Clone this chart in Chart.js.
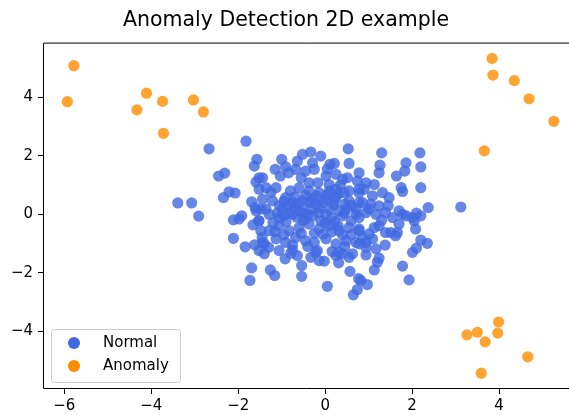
<!DOCTYPE html>
<html>
<head>
<meta charset="utf-8">
<script src="https://cdn.jsdelivr.net/npm/chart.js@4"></script>
<style>
  html, body { margin: 0; padding: 0; background: #fff; }
</style>
</head>
<body>
<canvas id="myChart" width="569" height="415"></canvas>
<script>
// nomes das series
const seriesNames = ['Normal', 'Anomaly'];

// pontos normais (x, y)
const normalPoints = [
  [-2.67, 2.24], [-1.82, 2.50], [-1.57, 1.88], [-1.63, 1.65], [-2.45, 1.31], [-2.31, 1.41],
  [-1.52, 1.25], [-1.59, 1.10], [-2.21, 0.77], [-2.07, 0.73], [-2.34, 0.57], [-3.39, 0.39],
  [-3.07, 0.39], [-1.69, 0.43], [-1.61, 0.23], [-2.91, -0.06],
  [-2.11, -0.19], [-1.98, -0.16], [-1.92, -0.05], [-1.59, 0.12], [-1.66, -0.36], [-1.53, -0.22],
  [-2.11, -0.82], [-1.84, -1.11], [-1.62, -1.04], [-1.45, -0.79], [-1.69, -1.83], [-1.73, -2.26],
  [-1.48, -0.56], [-1.44, -0.96], [-1.52, -1.24], [-1.52, 0.86], [-1.44, 0.52], [-1.48, 0.18],
  [-1.26, -1.90], [-1.16, -2.09], [-0.54, -1.75], [-0.54, -2.12], [0.05, -2.46], [0.57, -1.95],
  [0.77, -2.20], [0.74, -2.57], [0.65, -2.75], [-0.02, -1.60], [-0.14, -1.58], [0.25, -1.41],
  [0.31, -1.66], [-0.92, -1.52], [-0.79, -1.33], [-0.64, -1.41], [-1.40, -1.35], [-1.30, -1.13],
  [-0.33, -1.47], [-0.18, -1.24], [0.40, -1.35], [0.55, -1.47],
  [1.78, -1.77], [1.93, -2.24], [1.13, -1.90], [1.20, -1.64], [1.24, -1.50], [0.97, -2.40],
  [0.82, -2.26], [0.94, -1.39], [2.01, -1.30], [2.10, -1.15], [2.20, -0.88], [2.35, -0.99],
  [1.38, -1.05], [2.08, -0.50], [1.70, -0.33], [1.62, -0.73], [1.66, -0.62], [1.51, -0.62],
  [1.39, -0.62], [1.13, -0.45], [1.24, -0.39], [0.86, -0.79], [0.94, -0.96], [1.09, -0.84],
  [1.78, 0.00], [2.01, -0.11], [2.20, -0.05], [1.70, 0.12], [0.78, -0.11], [0.94, 0.06],
  [1.17, 0.00], [1.39, 0.06], [1.55, -0.11], [1.86, -0.05], [2.05, -0.22], [0.78, -0.56],
  [1.01, -0.67], [0.78, -1.01], [0.94, -1.13], [1.17, -1.18],
  [1.30, 2.10], [2.18, 2.10], [1.26, 1.68], [1.24, 1.42], [1.86, 1.76], [1.83, 1.48],
  [1.64, 1.31], [2.20, 1.62], [1.75, 0.91], [1.78, 0.78], [2.20, 0.91], [2.37, 0.23],
  [3.12, 0.25], [0.78, 1.42], [0.94, 1.08], [1.13, 1.02], [0.90, 0.86], [1.32, 0.74],
  [1.47, 0.57], [1.09, 0.63], [1.24, 0.29], [2.10, 0.04], [0.78, 0.74], [0.86, 0.40], [1.01, 0.18],
  [0.53, 2.24], [-0.33, 2.13], [-0.52, 2.05], [-0.10, 1.99], [-1.00, 1.88], [-0.64, 1.82],
  [-0.91, 1.63], [-1.15, 1.54], [-0.29, 1.76], [0.11, 1.71], [0.21, 1.74], [0.55, 1.74],
  [-1.44, 1.25], [-1.36, 0.91], [-1.13, 0.91], [-0.68, 1.54], [-0.45, 1.48], [-0.25, 1.54],
  [-1.03, 1.31], [-0.84, 1.42], [0.02, 1.31], [0.25, 1.37], [0.40, 1.20], [0.51, 1.25],
  [0.74, 1.14], [-0.37, 1.08], [-0.17, 1.08], [0.09, 1.02], [-0.60, 0.91], [-0.37, 0.80],
  [-0.14, 0.74], [0.25, 0.86], [0.44, 0.74], [0.55, 0.80], [0.78, 0.86],
  [-1.21, 0.46], [-0.91, 0.57], [-0.75, 0.40], [-0.52, 0.46], [-0.29, 0.52], [0.02, 0.52],
  [0.25, 0.57], [0.55, 0.46], [0.78, 0.40], [-1.36, 0.18], [-0.98, 0.18], [-0.83, 0.06],
  [-0.60, 0.12], [-0.37, 0.18], [-0.14, 0.23], [0.09, 0.18], [0.32, 0.12], [0.48, 0.18], [0.71, 0.18],
  [-1.29, 0.00], [-1.06, -0.11], [-0.75, 0.00], [-0.52, 0.06], [-0.29, -0.05], [0.02, 0.00],
  [0.40, -0.05], [0.71, 0.00], [-1.52, -0.22], [-1.29, -0.56], [-1.06, -0.39], [-0.83, -0.56],
  [-0.60, -0.45], [-0.37, -0.33], [-0.14, -0.50], [0.09, -0.39], [0.32, -0.56], [0.55, -0.45],
  [0.78, -0.50], [-1.40, -1.01], [-1.13, -0.84], [-0.91, -0.96], [-0.68, -0.79], [-0.45, -0.90],
  [-0.25, -0.96], [0.02, -0.84], [0.25, -1.01], [0.48, -0.90], [0.71, -0.96],
  [-1.06, -1.24], [-0.75, -1.22], [-0.22, -1.30], [0.16, -1.27], [0.32, -1.30], [0.63, -1.35],
  [-0.90, -0.25], [-0.50, -0.20], [-0.10, -0.22], [0.22, -0.25], [0.60, -0.22], [-1.20, -0.28],
  [-0.70, 0.28], [-0.20, 0.35], [0.20, 0.32], [0.60, 0.30], [-1.05, 0.30],
  [-0.55, -0.65], [-0.05, -0.68], [0.40, -0.70], [-0.95, -0.70], [0.10, 0.80], [-0.80, 0.80],
  // nucleo denso
  [-0.95, 0.45], [-0.70, 0.60], [-0.45, 0.65], [-0.20, 0.62], [0.05, 0.68], [0.30, 0.70],
  [-1.10, 0.05], [-0.85, 0.30], [-0.60, 0.35], [-0.35, 0.40], [-0.05, 0.40], [0.20, 0.45],
  [0.45, 0.35], [-0.95, -0.05], [-0.65, -0.10], [-0.40, 0.00], [-0.15, 0.05], [0.15, -0.10],
  [0.45, 0.05], [-0.45, -0.15], [0.00, -0.30], [0.30, -0.40], [-0.25, -0.65], [0.15, -0.60],
  [0.60, -0.70], [-1.15, -0.60], [-0.75, -1.05], [-0.40, -1.10], [0.45, -1.10], [1.30, -0.20],
  [1.05, 0.35], [1.45, 0.30], [-1.25, 0.75], [-0.55, 1.25], [0.05, 1.55], [0.35, 1.00]
];

// anomalias
const anomalyPoints = [
  [-5.78, 5.08], [-5.93, 3.85], [-4.11, 4.14], [-4.33, 3.57], [-3.74, 3.86], [-3.03, 3.91],
  [-2.80, 3.50], [-3.72, 2.77],
  [3.84, 5.33], [3.86, 4.76], [4.35, 4.57], [4.69, 3.95], [5.26, 3.18], [3.66, 2.17],
  [3.99, -3.68], [3.50, -4.03], [3.26, -4.12], [3.97, -4.06], [3.68, -4.36], [4.66, -4.87],
  [3.59, -5.43]
];

const xTicks = [-6, -4, -2, 0, 2, 4];
const yTicks = [-4, -2, 0, 2, 4];
const xLimits = [-6.49, 5.48];
const yLimits = [-5.97, 5.87];

const fonte = '"DejaVu Sans", sans-serif';
const menos = v => String(v).replace('-', '\u2212');

// moldura: topo e base vao ate a borda do canvas (figura original cortada na direita)
const moldura = {
  id: 'moldura',
  afterDraw(chart) {
    const { ctx, chartArea: a } = chart;
    ctx.save();
    ctx.strokeStyle = '#000';
    ctx.lineWidth = 1;
    ctx.beginPath();
    ctx.moveTo(chart.width, a.top + 0.5);
    ctx.lineTo(a.left + 0.5, a.top + 0.5);
    ctx.lineTo(a.left + 0.5, a.bottom - 0.5);
    ctx.lineTo(chart.width, a.bottom - 0.5);
    ctx.stroke();
    ctx.restore();
  }
};

// legenda dentro do grafico, canto inferior esquerdo
const legendaDentro = {
  id: 'legendaDentro',
  afterDraw(chart) {
    const { ctx, chartArea: a } = chart;
    const cores = ['rgb(65,105,225)', 'rgb(255,140,0)'];
    const x0 = a.left + 8, y0 = a.bottom - 60, w = 129, h = 53;
    ctx.save();
    ctx.fillStyle = 'rgba(255,255,255,0.8)';
    ctx.strokeStyle = '#cccccc';
    ctx.lineWidth = 1;
    ctx.beginPath();
    ctx.roundRect(x0 + 0.5, y0 + 0.5, w, h, 3);
    ctx.fill();
    ctx.stroke();
    ctx.font = '15px ' + fonte;
    ctx.textBaseline = 'middle';
    seriesNames.forEach((nome, i) => {
      const cy = y0 + 14 + i * 23;
      ctx.fillStyle = cores[i];
      ctx.beginPath();
      ctx.arc(x0 + 23, cy, 6, 0, Math.PI * 2);
      ctx.fill();
      ctx.fillStyle = '#000';
      ctx.fillText(nome, x0 + 52, cy);
    });
    ctx.restore();
  }
};

const ctx = document.getElementById('myChart').getContext('2d');

const myChart = new Chart(ctx, {
  type: 'scatter',
  data: {
    datasets: [{
      label: seriesNames[0],
      data: normalPoints.map(p => ({ x: p[0], y: p[1] })),
      backgroundColor: 'rgba(65,105,225,0.8)',
      borderWidth: 0,
      pointRadius: 5.6,
      pointHoverRadius: 5.6
    }, {
      label: seriesNames[1],
      data: anomalyPoints.map(p => ({ x: p[0], y: p[1] })),
      backgroundColor: 'rgba(255,140,0,0.8)',
      borderWidth: 0,
      pointRadius: 5.6,
      pointHoverRadius: 5.6
    }]
  },
  options: {
    responsive: false,
    animation: false,
    devicePixelRatio: 1,
    // padding negativo so desloca o titulo um pouco para a direita
    layout: { padding: { left: 0, right: -3, top: 0, bottom: 0 } },
    plugins: {
      legend: { display: false },
      tooltip: { enabled: false },
      title: {
        display: true,
        text: 'Anomaly Detection 2D example',
        color: '#000',
        font: { family: fonte, size: 20.5, weight: 'normal' },
        padding: { top: 8, bottom: 10 }
      }
    },
    scales: {
      x: {
        type: 'linear',
        position: 'bottom',
        min: xLimits[0],
        max: xLimits[1],
        border: { display: false },
        grid: { drawOnChartArea: false, drawTicks: true, tickLength: 5, color: '#000' },
        ticks: { color: '#000', font: { family: fonte, size: 15 }, padding: 3, callback: menos },
        afterBuildTicks: s => { s.ticks = xTicks.map(v => ({ value: v })); },
        afterFit: s => { s.height = 26; s.paddingLeft = 0; s.paddingRight = 0; }
      },
      y: {
        type: 'linear',
        position: 'left',
        min: yLimits[0],
        max: yLimits[1],
        border: { display: false },
        grid: { drawOnChartArea: false, drawTicks: true, tickLength: 5, color: '#000' },
        ticks: { color: '#000', font: { family: fonte, size: 15 }, padding: 5, callback: menos },
        afterBuildTicks: s => { s.ticks = yTicks.map(v => ({ value: v })); },
        afterFit: s => { s.width = 43; s.paddingTop = 0; s.paddingBottom = 0; }
      }
    }
  },
  plugins: [moldura, legendaDentro]
});
</script>
</body>
</html>
